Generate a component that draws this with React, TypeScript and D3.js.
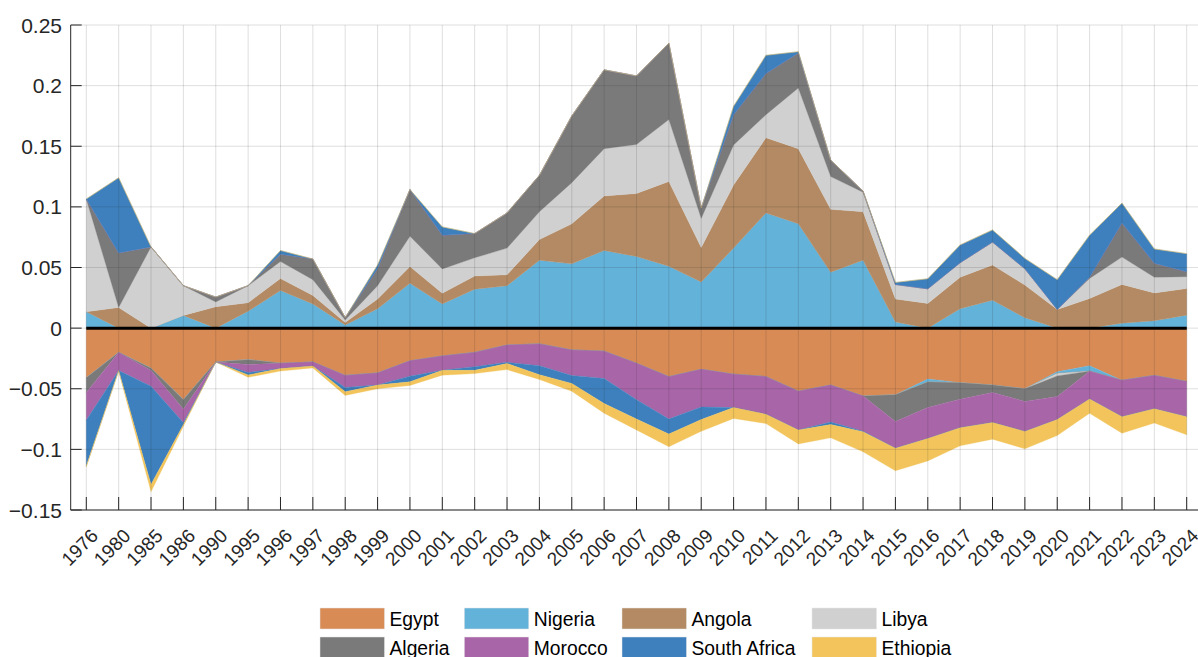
import { useEffect, useRef } from 'react'
import * as d3 from 'd3'

const years = ['1976', '1980', '1985', '1986', '1990', '1995', '1996', '1997', '1998', '1999', '2000', '2001', '2002', '2003', '2004', '2005', '2006', '2007', '2008', '2009', '2010', '2011', '2012', '2013', '2014', '2015', '2016', '2017', '2018', '2019', '2020', '2021', '2022', '2023', '2024']

const egypt = [-0.041, -0.020, -0.033, -0.059, -0.028, -0.026, -0.029, -0.028, -0.039, -0.037, -0.027, -0.023, -0.020, -0.014, -0.013, -0.018, -0.019, -0.029, -0.040, -0.034, -0.038, -0.040, -0.052, -0.047, -0.056, -0.055, -0.042, -0.045, -0.047, -0.050, -0.036, -0.031, -0.043, -0.039, -0.044]
const nigeria = [0.0135, 0, 0, 0.0105, 0, 0.014, 0.031, 0.020, 0.0025, 0.016, 0.037, 0.020, 0.032, 0.035, 0.056, 0.053, 0.064, 0.059, 0.051, 0.038, 0.066, 0.095, 0.086, 0.046, 0.056, 0.005, -0.0025, 0.016, 0.023, 0.0085, -0.0014, -0.0045, 0.004, 0.006, 0.0107]
const angola = [0, 0.017, 0, 0, 0.0176, 0.007, 0.010, 0.007, 0.0022, 0.008, 0.0138, 0.0088, 0.011, 0.009, 0.017, 0.033, 0.045, 0.052, 0.070, 0.0285, 0.052, 0.062, 0.062, 0.052, 0.040, 0.019, 0.0204, 0.026, 0.029, 0.027, 0.0154, 0.0245, 0.032, 0.023, 0.022]
const libya = [0.093, 0, 0.067, 0.0245, 0.004, 0.014, 0.014, 0.013, 0.002, 0.011, 0.025, 0.020, 0.015, 0.022, 0.023, 0.034, 0.039, 0.0405, 0.051, 0.024, 0.033, 0.019, 0.050, 0.027, 0.016, 0.012, 0.012, 0.012, 0.019, 0.0135, -0.002, 0.0165, 0.0226, 0.013, 0.0097]
const algeria = [-0.012, 0.045, -0.002, -0.008, 0.004, -0.004, 0.006, 0.017, 0.002, 0.014, 0.0385, 0.0277, 0.020, 0.029, 0.030, 0.055, 0.065, 0.0565, 0.063, 0.0085, 0.025, 0.034, 0.029, 0.0136, 0.001, -0.022, -0.021, -0.0137, -0.006, -0.0105, -0.017, 0.001, 0.028, 0.0116, 0.004]
const morocco = [-0.023, -0.015, -0.013, -0.011, 0, -0.0066, -0.0044, -0.0033, -0.010, -0.010, -0.0126, -0.0118, -0.0118, -0.0142, -0.018, -0.021, -0.0226, -0.030, -0.035, -0.031, -0.0275, -0.031, -0.032, -0.0305, -0.029, -0.022, -0.0256, -0.0234, -0.0248, -0.0247, -0.019, -0.023, -0.030, -0.0275, -0.029]
const southAfrica = [-0.0376, 0.062, -0.081, -0.0015, 0, -0.002, 0.003, 0, -0.0035, 0.003, -0.0047, 0.007, -0.003, -0.001, -0.0074, -0.0066, -0.0206, -0.016, -0.0124, -0.0104, 0.007, 0.015, 0.001, -0.002, -0.0005, 0.0017, 0.0083, 0.0146, 0.010, 0.0085, 0.0246, 0.0347, 0.0165, 0.0117, 0.015]
const ethiopia = [-0.001, -0.0005, -0.006, -0.0015, 0, -0.002, -0.002, -0.0015, -0.003, -0.003, -0.003, -0.004, -0.0027, -0.005, -0.004, -0.0064, -0.008, -0.009, -0.0105, -0.0097, -0.009, -0.0077, -0.0115, -0.011, -0.0165, -0.0187, -0.0184, -0.015, -0.0138, -0.0143, -0.0132, -0.0118, -0.0137, -0.0118, -0.015]

const countries = ['Egypt', 'Nigeria', 'Angola', 'Libya', 'Algeria', 'Morocco', 'South Africa', 'Ethiopia']
const seriesValues = [egypt, nigeria, angola, libya, algeria, morocco, southAfrica, ethiopia]
const colors = ['#D98B55', '#63B2DA', '#B38A63', '#D0D0D0', '#7A7A7A', '#A865A8', '#3E80BD', '#F2C45B']
const yTicks = [-0.15, -0.1, -0.05, 0, 0.05, 0.1, 0.15, 0.2, 0.25]

export default function App() {
  const svgRef = useRef<SVGSVGElement>(null)

  useEffect(() => {
    if (!svgRef.current) return
    const svg = d3.select(svgRef.current)
    svg.selectAll('*').remove()

    const axisLeft = 70.7
    const top = 25
    const bottom = 510
    const width = 1198
    const font = 'Liberation Sans, Arial, Helvetica, sans-serif'

    const x = d3.scalePoint<string>().domain(years).range([86.3, 1186.7])
    const y = d3.scaleLinear().domain([-0.15, 0.25]).range([bottom, top])

    // positive and negative parts are stacked separately
    const rowsPos = years.map((yr, i) => {
      const r: any = { year: yr }
      countries.forEach((c, k) => (r[c] = Math.max(seriesValues[k][i], 0)))
      return r
    })
    const rowsNeg = years.map((yr, i) => {
      const r: any = { year: yr }
      countries.forEach((c, k) => (r[c] = Math.min(seriesValues[k][i], 0)))
      return r
    })
    const stack = d3.stack<any>().keys(countries)
    const pos = stack(rowsPos)
    const neg = stack(rowsNeg)

    const area = d3
      .area<any>()
      .x(d => x(d.data.year) as number)
      .y0(d => y(d[0]))
      .y1(d => y(d[1]))

    const g = svg.append('g')
    ;[neg, pos].forEach(layers => {
      layers.forEach((layer, k) => {
        g.append('path')
          .datum(layer)
          .attr('fill', colors[k])
          .attr('stroke', colors[k])
          .attr('stroke-width', 0.3)
          .attr('d', area)
      })
    })

    // grid drawn over the areas
    const grid = svg.append('g').attr('stroke', 'rgba(38,38,38,0.15)').attr('stroke-width', 1)
    grid.selectAll('line.v')
      .data(years)
      .enter()
      .append('line')
      .attr('x1', d => x(d) as number)
      .attr('x2', d => x(d) as number)
      .attr('y1', top)
      .attr('y2', bottom)
    grid.selectAll('line.h')
      .data(yTicks)
      .enter()
      .append('line')
      .attr('x1', axisLeft)
      .attr('x2', width)
      .attr('y1', d => y(d))
      .attr('y2', d => y(d))

    // zero line
    svg.append('line')
      .attr('x1', x(years[0]) as number)
      .attr('x2', x(years[years.length - 1]) as number)
      .attr('y1', y(0))
      .attr('y2', y(0))
      .attr('stroke', '#000')
      .attr('stroke-width', 3)

    // axes
    const axisColor = '#262626'
    svg.append('line')
      .attr('x1', axisLeft).attr('x2', axisLeft)
      .attr('y1', top).attr('y2', bottom)
      .attr('stroke', axisColor)
    svg.append('line')
      .attr('x1', axisLeft).attr('x2', width)
      .attr('y1', bottom).attr('y2', bottom)
      .attr('stroke', axisColor)

    svg.selectAll('line.ytick')
      .data(yTicks)
      .enter()
      .append('line')
      .attr('x1', axisLeft).attr('x2', axisLeft + 11)
      .attr('y1', d => y(d)).attr('y2', d => y(d))
      .attr('stroke', axisColor)
    svg.selectAll('text.ylab')
      .data(yTicks)
      .enter()
      .append('text')
      .attr('x', 62)
      .attr('y', d => y(d))
      .attr('dy', '0.36em')
      .attr('text-anchor', 'end')
      .attr('font-family', font)
      .attr('font-size', 21)
      .attr('fill', axisColor)
      .text(d => d3.format('~g')(d))

    svg.selectAll('line.xtick')
      .data(years)
      .enter()
      .append('line')
      .attr('x1', d => x(d) as number).attr('x2', d => x(d) as number)
      .attr('y1', bottom).attr('y2', bottom - 13)
      .attr('stroke', axisColor)
    svg.selectAll('text.xlab')
      .data(years)
      .enter()
      .append('text')
      .attr('transform', d => `translate(${(x(d) as number) + 13},${bottom + 27}) rotate(-45)`)
      .attr('text-anchor', 'end')
      .attr('font-family', font)
      .attr('font-size', 19)
      .attr('fill', axisColor)
      .text(d => d)

    // legend, 4 columns x 2 rows
    const legX = [320, 464.3, 622, 812]
    const legY = [608, 637]
    const leg = svg.append('g')
    countries.forEach((c, k) => {
      const col = k % 4
      const row = Math.floor(k / 4)
      leg.append('rect')
        .attr('x', legX[col])
        .attr('y', legY[row])
        .attr('width', 64.5)
        .attr('height', 21)
        .attr('fill', colors[k])
        .attr('stroke', '#e6e6e6')
        .attr('stroke-width', 0.5)
      leg.append('text')
        .attr('x', legX[col] + 69.5)
        .attr('y', legY[row] + 11)
        .attr('dy', '0.36em')
        .attr('font-family', font)
        .attr('font-size', 19.3)
        .attr('fill', '#000')
        .text(c)
    })
  }, [])

  return (
    <svg
      ref={svgRef}
      width={1198}
      height={657}
      style={{ position: 'absolute', left: 0, top: 0, background: '#fff' }}
    />
  )
}
